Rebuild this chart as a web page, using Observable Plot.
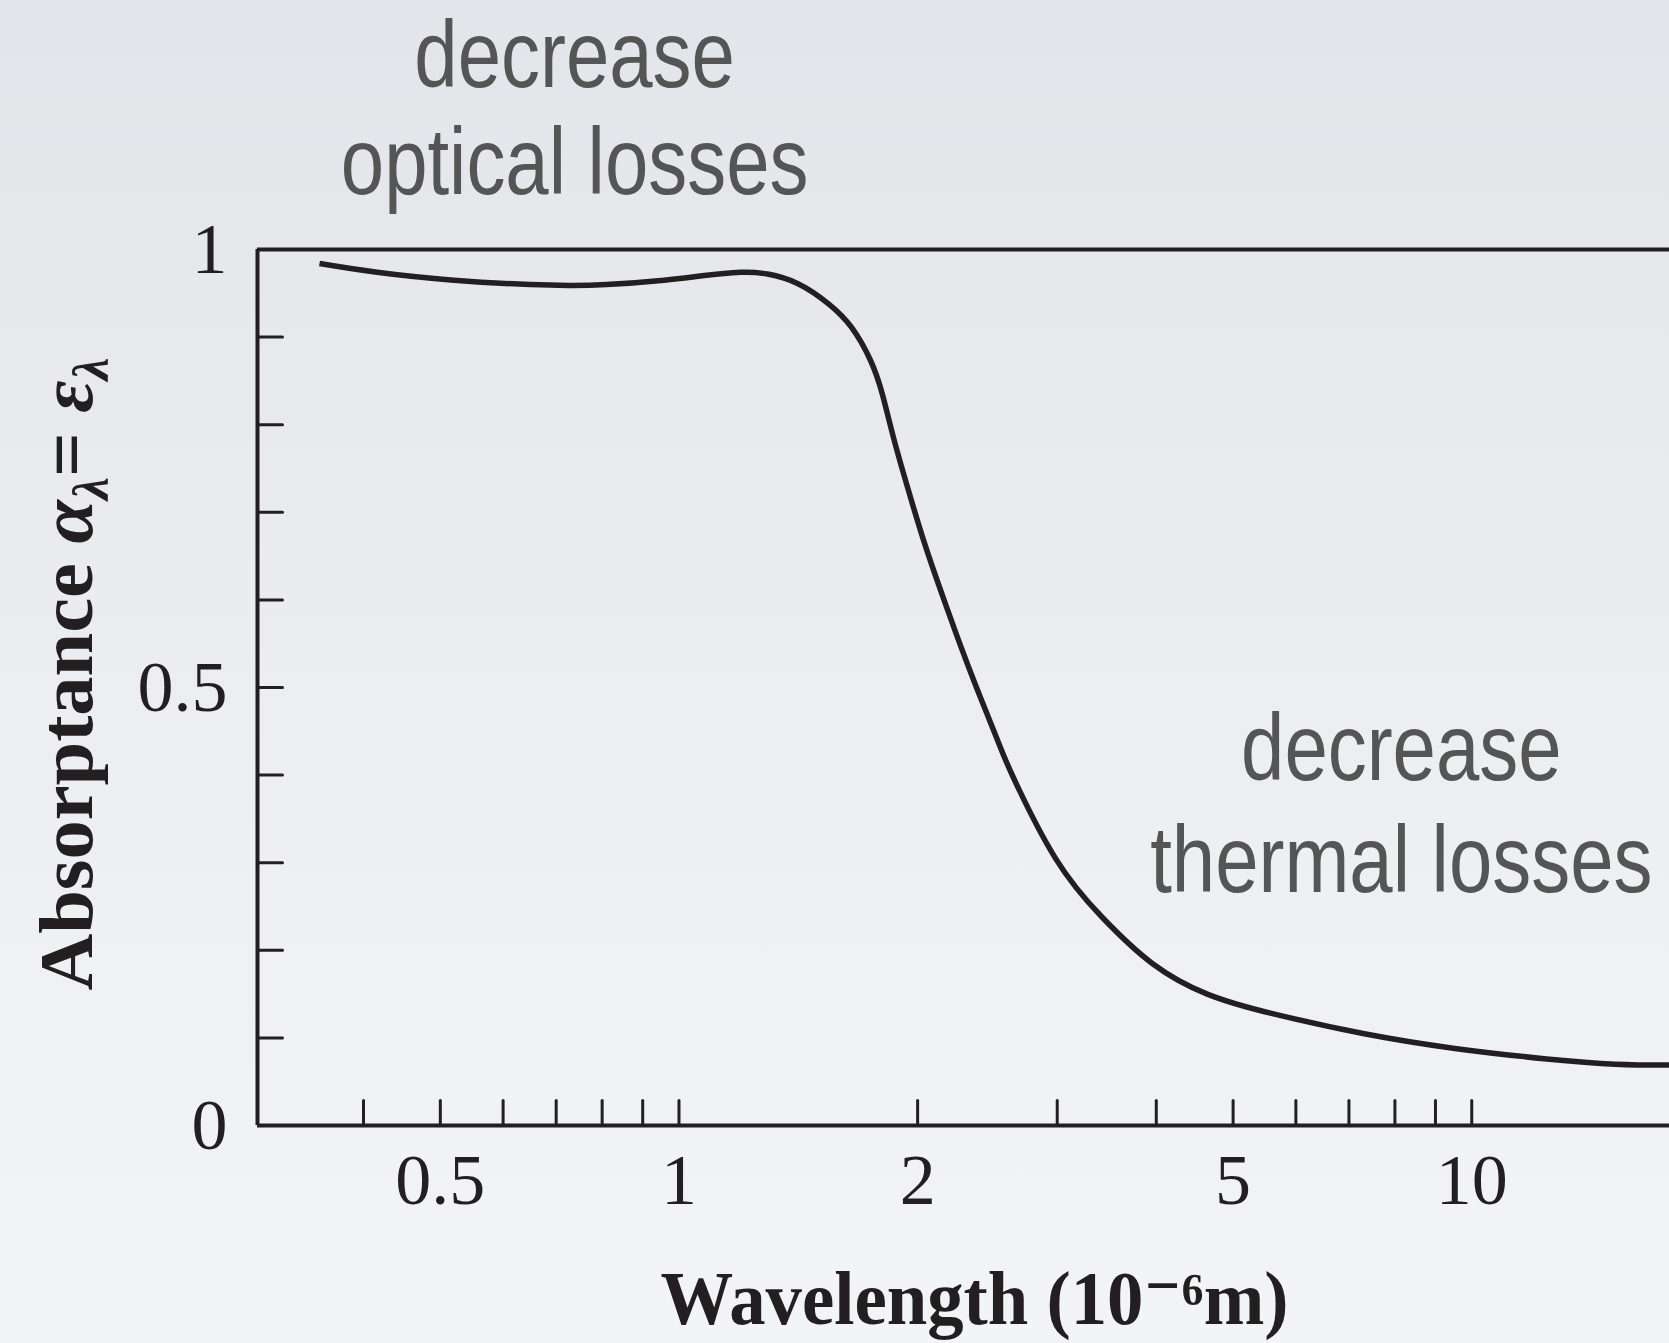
<!DOCTYPE html>
<html>
<head>
<meta charset="utf-8">
<script src="https://cdn.jsdelivr.net/npm/d3@7"></script>
<script src="https://cdn.jsdelivr.net/npm/@observablehq/plot@0.6"></script>
<style>
  html, body { margin: 0; padding: 0; overflow: hidden; }
  body {
    width: 1669px; height: 1343px;
    background: linear-gradient(to bottom, #e2e5e9 0%, #eceef1 55%, #f3f4f7 100%);
  }
  svg { display: block; }
</style>
</head>
<body>
<script>
// ---- data ----
const wavelength = [0.352, 0.416, 0.520, 0.649, 0.726, 0.810, 0.958, 1.070, 1.196, 1.293,
  1.413, 1.544, 1.651, 1.745, 1.805, 1.865, 1.943, 2.035, 2.138, 2.246,
  2.380, 2.522, 2.642, 2.985, 3.416, 3.954, 4.639, 5.589, 7.293, 9.521,
  12.43, 15.17, 17.76];
const absorptance = [0.984, 0.974, 0.965, 0.960, 0.959, 0.960, 0.965, 0.970, 0.974, 0.972,
  0.961, 0.938, 0.911, 0.873, 0.835, 0.785, 0.728, 0.668, 0.611, 0.557,
  0.497, 0.440, 0.397, 0.305, 0.238, 0.185, 0.150, 0.128, 0.105, 0.088,
  0.076, 0.070, 0.069];

const xTickLabels = [0.5, 1, 2, 5, 10];
const xTicks = [0.4, 0.5, 0.6, 0.7, 0.8, 0.9, 1, 2, 3, 4, 5, 6, 7, 8, 9, 10];
const yTickLabels = [0, 0.5, 1];
const yTicks = [0.1, 0.2, 0.3, 0.4, 0.5, 0.6, 0.7, 0.8, 0.9];
const xDomain = [0.294, 17.76];
const yDomain = [0, 1];

const annotationText = ["decrease", "optical losses", "decrease", "thermal losses"];
const annotationX = [0.7385, 0.7385, 8.15, 8.15];
const annotationY = [1.186, 1.063, 0.394, 0.266];

const xTitle = "Wavelength (10\u207B\u2076m)";
const yTitle = "Absorptance \u03B1\u03BB= \u03B5\u03BB";

// ---- styles ----
const ink = "#231f20";
const annoColor = "#555555";
const annoFont = '"Liberation Sans Narrow", "Liberation Sans", Arial, sans-serif';
const serif = '"Liberation Serif", "DejaVu Serif", serif';
const narrowRatio = 0.82;
const xTitleLength = 628;
const yTitleLength = 633;

const curve = wavelength.map((w, i) => ({wavelength: w, absorptance: absorptance[i]}));
const annotations = annotationText.map((t, i) => ({text: t, x: annotationX[i], y: annotationY[i]}));

const tickShape = {draw(context, l) { context.moveTo(0, 0); context.lineTo(0, -l); }};

const chart = Plot.plot({
  width: 1669,
  height: 1343,
  marginLeft: 257,
  marginRight: 0,
  marginTop: 249,
  marginBottom: 218,
  style: {background: "transparent", overflow: "visible", color: ink, fontFamily: serif},
  x: {type: "log", domain: xDomain, axis: null},
  y: {domain: yDomain, axis: null},
  marks: [
    Plot.axisX(xTickLabels, {anchor: "bottom", tickSize: 0, tickPadding: 27, fontSize: 72,
      tickFormat: d => String(d), label: null, fill: ink}),
    Plot.axisY(yTickLabels, {anchor: "left", tickSize: 0, tickPadding: 30, fontSize: 72,
      tickFormat: d => String(d), label: null, fill: ink}),
    Plot.vector(xTicks, {x: d => d, frameAnchor: "bottom", length: 25, anchor: "start",
      shape: tickShape, stroke: ink, strokeWidth: 3}),
    Plot.vector(yTicks, {y: d => d, frameAnchor: "left", rotate: 90, length: 25, anchor: "start",
      shape: tickShape, stroke: ink, strokeWidth: 3}),
    Plot.ruleY([yDomain[1]], {stroke: ink, strokeWidth: 4}),
    Plot.ruleY([yDomain[0]], {stroke: ink, strokeWidth: 4}),
    Plot.ruleX([xDomain[0]], {stroke: ink, strokeWidth: 4}),
    Plot.line(curve, {x: "wavelength", y: "absorptance", curve: "natural",
      stroke: ink, strokeWidth: 5.5, strokeLinecap: "butt"}),
    Plot.text(annotations, {x: "x", y: "y", text: "text", fontSize: 95, fontFamily: annoFont,
      fill: annoColor, lineAnchor: "bottom", textAnchor: "middle"}),
    Plot.text([xTitle], {frameAnchor: "bottom", dx: 11, dy: 198, lineAnchor: "bottom",
      fontSize: 76, fontWeight: "bold", fill: ink}),
    Plot.text([yTitle], {frameAnchor: "left", rotate: -90, dx: -166, dy: 303, lineAnchor: "bottom",
      textAnchor: "start", fontSize: 76, fontWeight: "bold", fill: ink})
  ]
});

document.body.append(chart);

// ---- typographic touch-ups ----
const ctx = document.createElement("canvas").getContext("2d");
ctx.font = '95px "Liberation Sans", Arial, sans-serif';
d3.select(chart).selectAll("text").each(function() {
  const t = this.textContent;
  if (annotationText.includes(t)) {
    const target = ctx.measureText(t).width * narrowRatio;
    this.setAttribute("textLength", target.toFixed(1));
    this.setAttribute("lengthAdjust", "spacingAndGlyphs");
  } else if (t === xTitle) {
    this.setAttribute("textLength", xTitleLength);
    this.setAttribute("lengthAdjust", "spacingAndGlyphs");
  } else if (t === yTitle) {
    const el = d3.select(this);
    el.text(null);
    const parts = [
      {s: "Absorptance ", style: "normal"},
      {s: "\u03B1", style: "italic"},
      {s: "\u03BB", style: "italic", sub: true},
      {s: "= ", style: "normal", back: true},
      {s: "\u03B5", style: "italic"},
      {s: "\u03BB", style: "italic", sub: true}
    ];
    for (const p of parts) {
      const ts = el.append("tspan").text(p.s).attr("font-style", p.style);
      if (p.sub) ts.attr("font-size", 50).attr("dy", 16);
      if (p.back) ts.attr("dy", -16);
    }
    this.setAttribute("textLength", yTitleLength);
    this.setAttribute("lengthAdjust", "spacingAndGlyphs");
  }
});
</script>
</body>
</html>
